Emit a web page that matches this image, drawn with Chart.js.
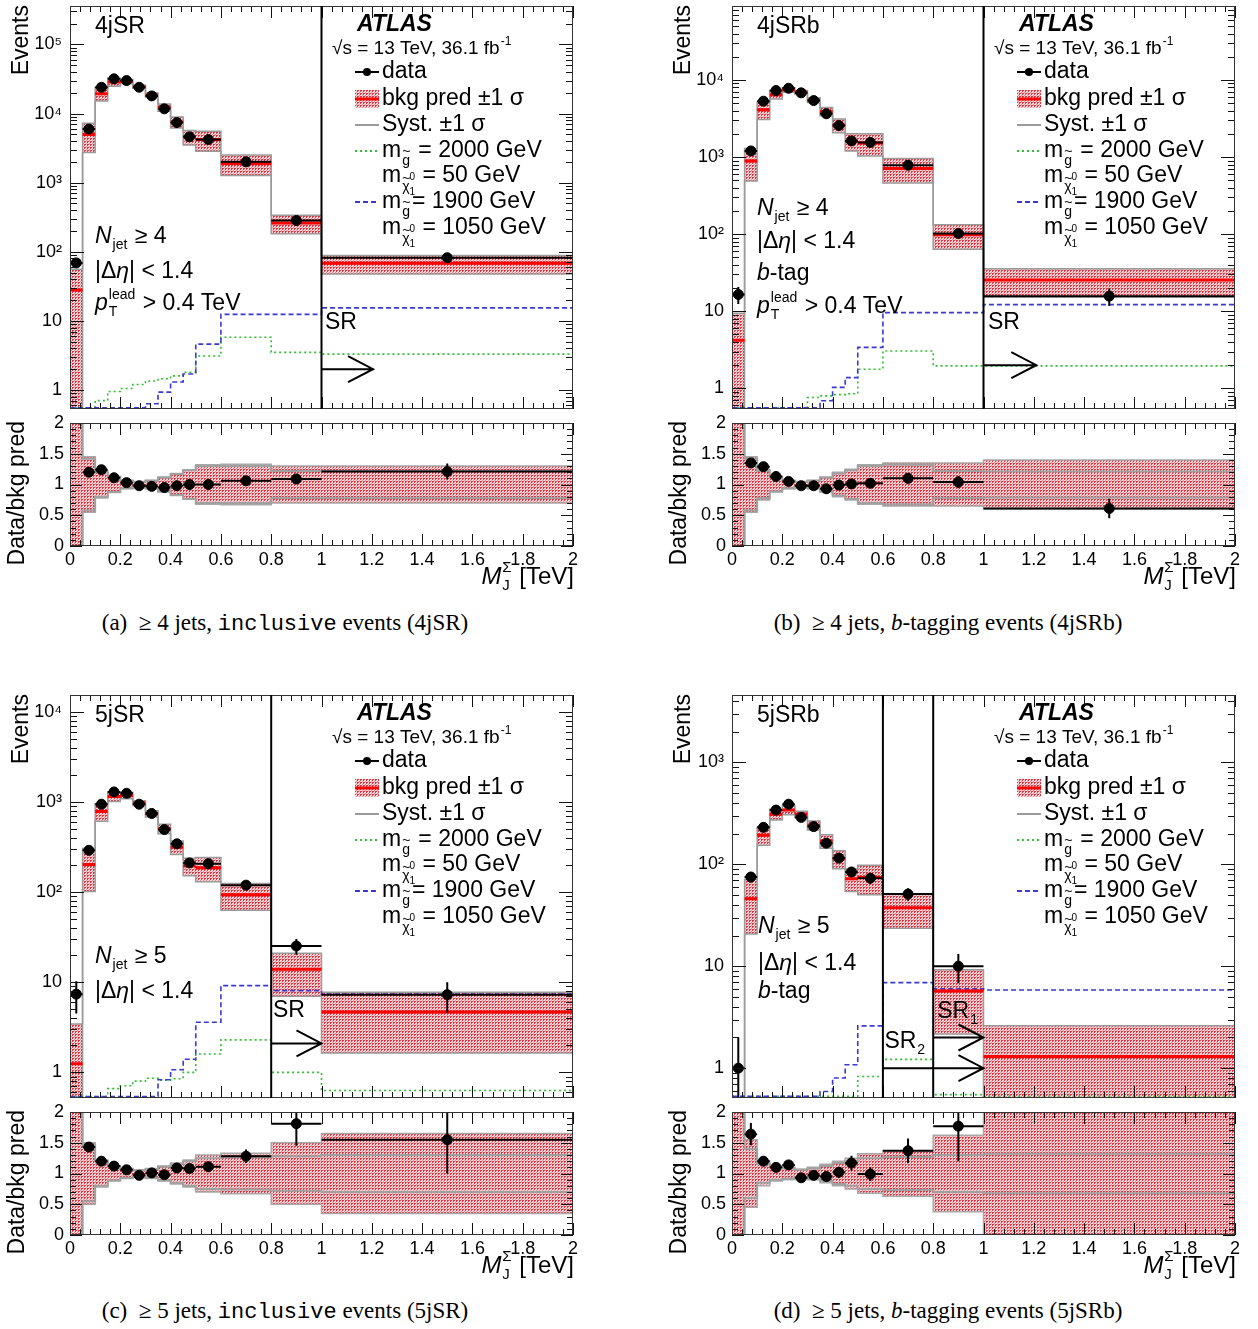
<!DOCTYPE html>
<html>
<head>
<meta charset="utf-8">
<title>M_J distributions, 4jSR / 4jSRb / 5jSR / 5jSRb</title>
<script src="https://cdn.jsdelivr.net/npm/chart.js@4.4.1/dist/chart.umd.min.js"></script>
<style>
  html, body { margin: 0; padding: 0; background: #fff; }
  #page { position: relative; width: 1258px; height: 1329px; overflow: hidden; }
  canvas { position: absolute; }
  .cap { position: absolute; width: 600px; margin-left: -300px; text-align: center; color: #000;
         font: 23px 'Liberation Serif', 'Times New Roman', serif; line-height: 26px; white-space: nowrap; }
  .cap .tt { font-family: 'Liberation Mono', 'Courier New', monospace; font-size: 22px; }
</style>
</head>
<body>
<div id="page">
  <canvas id="mainA" width="600" height="415" style="left:0px;top:0px"></canvas>
  <canvas id="ratioA" width="600" height="185" style="left:0px;top:415px"></canvas>
  <canvas id="mainB" width="600" height="415" style="left:662px;top:0px"></canvas>
  <canvas id="ratioB" width="600" height="185" style="left:662px;top:415px"></canvas>
  <canvas id="mainC" width="600" height="415" style="left:0px;top:689px"></canvas>
  <canvas id="ratioC" width="600" height="185" style="left:0px;top:1104px"></canvas>
  <canvas id="mainD" width="600" height="415" style="left:662px;top:689px"></canvas>
  <canvas id="ratioD" width="600" height="185" style="left:662px;top:1104px"></canvas>
  <div class="cap" style="left:285px;top:610px">(a) &nbsp;≥ 4 jets, <span class="tt">inclusive</span> events (4jSR)</div>
  <div class="cap" style="left:948px;top:610px">(b) &nbsp;≥ 4 jets, <i>b</i>-tagging events (4jSRb)</div>
  <div class="cap" style="left:285px;top:1298px">(c) &nbsp;≥ 5 jets, <span class="tt">inclusive</span> events (5jSR)</div>
  <div class="cap" style="left:948px;top:1298px">(d) &nbsp;≥ 5 jets, <i>b</i>-tagging events (5jSRb)</div>
</div>
<script>
var FONT = "'Liberation Sans', Arial, Helvetica, sans-serif";

// binning in M_J^Sigma [TeV]
var binEdges = [0, 0.05, 0.1, 0.15, 0.2, 0.25, 0.3, 0.35, 0.4, 0.45, 0.5, 0.6, 0.8, 1.0, 2.0];
var binCentres = [0.025, 0.075, 0.125, 0.175, 0.225, 0.275, 0.325, 0.375, 0.425, 0.475, 0.55, 0.7, 0.9, 1.5];

// tick values / labels
var massTicks = [0, 0.2, 0.4, 0.6, 0.8, 1, 1.2, 1.4, 1.6, 1.8, 2];
var ratioTicks = [0, 0.5, 1, 1.5, 2];
var eventTicks = [1, 10, 100, 1000, 10000, 100000];
var eventTickLabels = ['1', '10', '10²', '10³', '10⁴', '10⁵'];

// (a) 4jSR
var dataA = [69, 5960, 24000, 31800, 30000, 24000, 18000, 11700, 7400, 4600, 4200, 2000, 283, 82];
var dataErrA = [8, 77, 155, 178, 173, 155, 134, 108, 86, 68, 65, 45, 17, 9];
var bkgA = [28, 4970, 19400, 28600, 29100, 24500, 18600, 12300, 7550, 4600, 4200, 1890, 260, 68];
var bandA = [1.0, 0.45, 0.22, 0.13, 0.07, 0.05, 0.07, 0.12, 0.18, 0.24, 0.32, 0.33, 0.30, 0.30];
var sysA = [1.0, 0.42, 0.20, 0.12, 0.06, 0.04, 0.06, 0.11, 0.17, 0.23, 0.30, 0.30, 0.22, 0.22];
var ratioA = [null, 1.20, 1.24, 1.11, 1.03, 0.98, 0.97, 0.95, 0.98, 1.00, 1.00, 1.06, 1.09, 1.21];
var ratioErrA = [0, 0.02, 0.01, 0.01, 0.01, 0.01, 0.01, 0.01, 0.012, 0.015, 0.016, 0.025, 0.065, 0.13];
var greenA = [0.4, 0.45, 0.7, 0.95, 1.05, 1.2, 1.35, 1.45, 1.6, 1.8, 3.1, 5.8, 3.5, 3.3];
var blueA = [0.3, 0.3, 0.3, 0.3, 0.3, 0.3, 0.63, 0.93, 1.3, 1.7, 4.6, 12.4, 12.4, 15.4];

// (b) 4jSRb
var dataB = [16.5, 1200, 5300, 7280, 7800, 6800, 5400, 3640, 2560, 1620, 1550, 783, 102, 15.7];
var dataErrB = [4.1, 35, 73, 85, 88, 82, 73, 60, 51, 40, 39, 28, 10, 4];
var bkgB = [4.2, 890, 4100, 6450, 7430, 6940, 5500, 3910, 2590, 1600, 1520, 710, 98, 25.5];
var bandB = [1.25, 0.45, 0.25, 0.12, 0.07, 0.05, 0.07, 0.12, 0.2, 0.25, 0.32, 0.35, 0.35, 0.4];
var sysB = [1.0, 0.42, 0.22, 0.11, 0.06, 0.04, 0.06, 0.11, 0.18, 0.23, 0.3, 0.32, 0.22, 0.21];
var ratioB = [null, 1.35, 1.29, 1.13, 1.05, 0.98, 0.98, 0.93, 0.99, 1.01, 1.02, 1.10, 1.04, 0.61];
var ratioErrB = [0, 0.04, 0.02, 0.015, 0.012, 0.012, 0.013, 0.016, 0.02, 0.025, 0.026, 0.04, 0.1, 0.16];
var greenB = [0.3, 0.3, 0.3, 0.3, 0.3, 0.56, 0.76, 0.8, 0.83, 0.85, 1.77, 3.05, 1.96, 1.96];
var blueB = [0.3, 0.3, 0.3, 0.3, 0.3, 0.3, 0.3, 0.69, 1.03, 1.38, 3.4, 9.6, 9.6, 12.2];

// (c) 5jSR
var dataC = [7.4, 292, 950, 1300, 1256, 950, 750, 497, 345, 212, 208, 120, 25.3, 7.3];
var dataErrC = [2.9, 17, 31, 36, 35, 31, 27, 22, 19, 15, 14, 11, 5, 2.7];
var bkgC = [1.25, 204, 790, 1160, 1185, 980, 743, 507, 317, 196, 187, 94, 14, 4.7];
var bandC = [1.75, 0.5, 0.22, 0.12, 0.08, 0.06, 0.08, 0.12, 0.17, 0.22, 0.3, 0.33, 0.5, 0.65];
var sysC = [1.0, 0.45, 0.2, 0.11, 0.07, 0.05, 0.07, 0.11, 0.15, 0.2, 0.25, 0.26, 0.28, 0.3];
var ratioC = [null, 1.43, 1.20, 1.12, 1.06, 0.97, 1.01, 0.98, 1.09, 1.08, 1.11, 1.28, 1.81, 1.55];
var ratioErrC = [0, 0.05, 0.04, 0.03, 0.03, 0.03, 0.035, 0.045, 0.06, 0.075, 0.08, 0.11, 0.36, 0.55];
var greenC = [0.45, 0.5, 0.52, 0.66, 0.71, 0.8, 0.86, 0.82, 0.85, 1.0, 1.6, 2.3, 1.0, 0.63];
var blueC = [0.3, 0.3, 0.3, 0.3, 0.3, 0.3, 0.3, 0.83, 1.07, 1.4, 3.6, 9.2, 8.1, 7.4];

// (d) 5jSRb
var dataD = [1.0, 75, 230, 340, 388, 288, 234, 161, 115, 84, 73, 51, 10, null];
var dataErrD = [1.0, 8.7, 15, 18, 20, 17, 15, 13, 11, 9.2, 8.5, 7.1, 3.2, 0];
var bkgD = [0.2, 46, 192, 309, 340, 310, 241, 169, 113, 72, 74, 37.5, 5.7, 1.3];
var bandD = [1.0, 0.55, 0.2, 0.12, 0.1, 0.07, 0.1, 0.15, 0.2, 0.25, 0.32, 0.37, 0.62, 1.0];
var sysD = [1.0, 0.4, 0.15, 0.1, 0.08, 0.06, 0.08, 0.12, 0.17, 0.2, 0.25, 0.27, 0.3, 0.32];
var ratioD = [null, 1.64, 1.20, 1.10, 1.14, 0.93, 0.97, 0.95, 1.02, 1.17, 0.99, 1.37, 1.77, null];
var ratioErrD = [0, 0.18, 0.08, 0.06, 0.06, 0.055, 0.06, 0.075, 0.09, 0.12, 0.11, 0.2, 0.57, 0];
var greenD = [0.3, 0.3, 0.3, 0.3, 0.3, 0.3, 0.3, 0.3, 0.3, 0.3, 0.83, 1.22, 0.55, 0.4];
var blueD = [0.3, 0.3, 0.3, 0.3, 0.3, 0.3, 0.3, 0.59, 0.8, 1.08, 2.6, 6.9, 6.0, 5.85];

// text pieces
var cutN4 = [{t: 'N', it: 1}, {sub: 'jet'}, {t: ' ≥ 4'}];
var cutN5 = [{t: 'N', it: 1}, {sub: 'jet'}, {t: ' ≥ 5'}];
var cutEta = [{t: '|Δ'}, {t: 'η', it: 1}, {t: '| < 1.4'}];
var cutPt = [{t: 'p', it: 1}, {sub: 'T', sup: 'lead'}, {t: ' > 0.4 TeV'}];
var cutB = [{t: 'b', it: 1}, {t: '-tag'}];

Chart.defaults.font.family = FONT;
Chart.defaults.color = '#000';

// red dotted hatch like the ROOT fill style
function makeHatch() {
  var cv = document.createElement('canvas');
  cv.width = 3; cv.height = 3;
  var g = cv.getContext('2d');
  g.fillStyle = '#f8d6d8';
  g.fillRect(0, 0, 3, 3);
  g.fillStyle = '#e2323f';
  g.fillRect(0, 0, 2, 1);
  g.fillRect(0, 1, 1, 1);
  g.fillStyle = '#ee8a90';
  g.fillRect(2, 2, 1, 1);
  return g.createPattern(cv, 'repeat');
}
var hatch = makeHatch();

// rich text: sub / superscripts, tilde particles
function rich(c, x, y, segs, size, align) {
  function fnt(sz, it, b) { return (it ? 'italic ' : '') + (b ? 'bold ' : '') + sz + 'px ' + FONT; }
  function run(draw, x0) {
    var cx = x0;
    segs.forEach(function (s) {
      var small = Math.round(size * 0.62);
      var tiny = Math.round(size * 0.45);
      if (s.t !== undefined) {
        c.font = fnt(size, s.it, s.b);
        if (draw) c.fillText(s.t, cx, y);
        cx += c.measureText(s.t).width;
      } else if (s.tl) {
        c.font = fnt(small);
        var w = c.measureText(s.tl).width;
        if (draw) {
          c.fillText(s.tl, cx + 1, y + size * 0.42);
          c.fillText('~', cx + 1, y + size * 0.42 - small * 0.62);
        }
        cx += w + 3;
      } else if (s.chi) {
        c.font = fnt(small);
        var wc = c.measureText('χ').width;
        if (draw) {
          c.fillText('χ', cx + 1, y + size * 0.5);
          c.fillText('~', cx + 1, y + size * 0.5 - small * 0.62);
          c.font = fnt(tiny);
          c.fillText('0', cx + wc + 1, y + size * 0.05);
          c.fillText('1', cx + wc + 1, y + size * 0.72);
        }
        c.font = fnt(tiny);
        cx += wc + c.measureText('0').width + 2;
      } else {
        c.font = fnt(small, s.it);
        var ws = 0;
        if (s.sub) {
          if (draw) c.fillText(s.sub, cx + 1, y + size * 0.36);
          ws = Math.max(ws, c.measureText(s.sub).width);
        }
        if (s.sup) {
          if (draw) c.fillText(s.sup, cx + 1, y - size * 0.4);
          ws = Math.max(ws, c.measureText(s.sup).width);
        }
        cx += ws + 2;
      }
    });
    return cx - x0;
  }
  c.textAlign = 'left';
  c.textBaseline = 'middle';
  var w = run(false, 0);
  run(true, align === 'right' ? x - w : x);
  return w;
}

// dataset helpers
function steps(vals, floor) {
  var pts = [];
  for (var i = 0; i < vals.length; i++) {
    pts.push({x: binEdges[i], y: Math.max(vals[i], floor)});
  }
  pts.push({x: binEdges[vals.length], y: Math.max(vals[vals.length - 1], floor)});
  return pts;
}

function flats(vals) {
  var pts = [];
  vals.forEach(function (v, i) {
    if (v == null) return;
    pts.push({x: binEdges[i], y: v}, {x: binEdges[i + 1], y: v}, {x: binEdges[i + 1], y: null});
  });
  return pts;
}

function errorBars(vals, errs, floor) {
  var pts = [];
  vals.forEach(function (v, i) {
    if (v == null) return;
    pts.push({x: binCentres[i], y: Math.max(v - errs[i], floor)},
             {x: binCentres[i], y: v + errs[i]},
             {x: binCentres[i], y: null});
  });
  return pts.concat(flats(vals));
}

function markers(vals) {
  var pts = [];
  vals.forEach(function (v, i) {
    if (v != null) pts.push({x: binCentres[i], y: v});
  });
  return pts;
}

// no automatic label overhang padding: plot areas sit where the frames are
function noPad(s) {
  s.paddingTop = 0; s.paddingBottom = 0; s.paddingLeft = 0; s.paddingRight = 0;
}

// frame and inward ticks, ROOT style
var frameTicks = {
  id: 'frameTicks',
  afterDatasetsDraw: function (chart) {
    var a = chart.chartArea, c = chart.ctx, xs = chart.scales.x, ys = chart.scales.y;
    c.save();
    c.strokeStyle = '#111';
    c.lineWidth = 1;
    c.beginPath();
    for (var k = 0; k <= 50; k++) {
      var px = Math.round(xs.getPixelForValue(k * 0.04)) + 0.5;
      var len = k % 5 === 0 ? 12 : 6;
      c.moveTo(px, a.bottom); c.lineTo(px, a.bottom - len);
      c.moveTo(px, a.top); c.lineTo(px, a.top + len);
    }
    var yt = [];
    if (ys.type === 'logarithmic') {
      for (var e = -1; e <= 6; e++) {
        for (var m = 1; m <= 9; m++) {
          var v = m * Math.pow(10, e);
          if (v >= ys.min && v <= ys.max) yt.push([v, m === 1 ? 14 : 7]);
        }
      }
    } else {
      for (var j = 0; j <= 20; j++) yt.push([j * 0.1, j % 5 === 0 ? 12 : 6]);
    }
    yt.forEach(function (t) {
      var py = Math.round(ys.getPixelForValue(t[0])) + 0.5;
      c.moveTo(a.left, py); c.lineTo(a.left + t[1], py);
      c.moveTo(a.right, py); c.lineTo(a.right - t[1], py);
    });
    c.stroke();
    c.strokeStyle = '#333';
    c.strokeRect(Math.round(a.left) + 0.5, Math.round(a.top) + 0.5,
                 Math.round(a.right - a.left) - 1, Math.round(a.bottom - a.top) - 1);
    c.restore();
  }
};

function hline(c, x0, x1, y) { c.beginPath(); c.moveTo(x0, y); c.lineTo(x1, y); c.stroke(); }

function mainNotes(p) {
  return {
    id: 'mainNotes',
    afterDraw: function (chart) {
      var c = chart.ctx, a = chart.chartArea, xs = chart.scales.x, ys = chart.scales.y;
      c.save();
      c.fillStyle = '#000';
      c.strokeStyle = '#000';
      c.lineWidth = 2;
      // signal region boundaries and arrows
      p.srLines.forEach(function (v) {
        var px = xs.getPixelForValue(v);
        c.beginPath(); c.moveTo(px, a.top); c.lineTo(px, a.bottom); c.stroke();
      });
      p.arrows.forEach(function (r) {
        var x0 = xs.getPixelForValue(r.x0), x1 = xs.getPixelForValue(r.x1), y = ys.getPixelForValue(r.y);
        c.beginPath();
        c.moveTo(x0, y); c.lineTo(x1, y);
        c.moveTo(x1 - 25, y - 13); c.lineTo(x1, y); c.lineTo(x1 - 25, y + 13);
        c.stroke();
      });
      p.srLabels.forEach(function (l) {
        rich(c, xs.getPixelForValue(l.x), ys.getPixelForValue(l.y), l.segs, 23, 'left');
      });
      // region name and selection
      rich(c, a.left + 25, a.top + 21, [{t: p.name}], 23);
      p.cuts.forEach(function (segs, i) {
        rich(c, a.left + p.cutX, a.top + p.cutY[i], segs, 23);
      });
      // ATLAS label
      rich(c, a.left + 287, a.top + 19, [{t: 'ATLAS', it: 1, b: 1}], 23);
      rich(c, a.left + 262, a.top + 43, [{t: '√s = 13 TeV, 36.1 fb'}, {sup: '-1'}], 19);
      // legend
      var lx = a.left + 285, lw = 24, tx = a.left + 312;
      var rows = [66, 93, 119, 145, 170, 196, 222].map(function (d) { return a.top + d; });
      c.lineWidth = 2; c.strokeStyle = '#000';
      hline(c, lx, lx + lw, rows[0]);
      c.beginPath(); c.arc(lx + lw / 2, rows[0], 4, 0, 2 * Math.PI); c.fill();
      c.fillStyle = hatch;
      c.fillRect(lx, rows[1] - 9, lw, 18);
      c.strokeStyle = '#ff0000'; c.lineWidth = 3;
      hline(c, lx, lx + lw, rows[1]);
      c.strokeStyle = '#9a9a9a'; c.lineWidth = 2;
      hline(c, lx, lx + lw, rows[2]);
      c.strokeStyle = '#2fbf2f'; c.setLineDash([2, 3]);
      hline(c, lx, lx + lw, rows[3]);
      c.strokeStyle = '#3a3acf'; c.setLineDash([5, 3]);
      hline(c, lx, lx + lw, rows[5]);
      c.setLineDash([]);
      c.fillStyle = '#000';
      var texts = [
        [{t: 'data'}],
        [{t: 'bkg pred ±1 σ'}],
        [{t: 'Syst. ±1 σ'}],
        [{t: 'm'}, {tl: 'g'}, {t: ' = 2000 GeV'}],
        [{t: 'm'}, {chi: 1}, {t: ' = 50 GeV'}],
        [{t: 'm'}, {tl: 'g'}, {t: '= 1900 GeV'}],
        [{t: 'm'}, {chi: 1}, {t: ' = 1050 GeV'}]
      ];
      texts.forEach(function (segs, i) { rich(c, tx, rows[i], segs, 23); });
      // y title
      c.translate(22, a.top - 1);
      c.rotate(-Math.PI / 2);
      c.font = '23px ' + FONT;
      c.textAlign = 'right';
      c.textBaseline = 'middle';
      c.fillText('Events', 0, 0);
      c.restore();
    }
  };
}

var ratioNotes = {
  id: 'ratioNotes',
  afterDraw: function (chart) {
    var c = chart.ctx, a = chart.chartArea;
    c.save();
    c.fillStyle = '#000';
    rich(c, a.right + 1, a.bottom + 31, [{t: 'M', it: 1}, {sub: 'J', sup: 'Σ'}, {t: ' [TeV]'}], 24, 'right');
    c.translate(18, a.top - 2);
    c.rotate(-Math.PI / 2);
    c.font = '23px ' + FONT;
    c.textAlign = 'right';
    c.textBaseline = 'middle';
    c.fillText('Data/bkg pred', 0, 0);
    c.restore();
  }
};

function makeMain(p) {
  var up = p.bkg.map(function (b, i) { return b * (1 + p.band[i]); });
  var dn = p.bkg.map(function (b, i) { return Math.max(b * (1 - p.band[i]), 1e-3); });
  var floor = p.ymin * 1.04;
  new Chart(document.getElementById(p.main), {
    type: 'line',
    data: {
      datasets: [
        {label: 'data', data: markers(p.data), showLine: false, pointRadius: 5,
         pointBackgroundColor: '#000', pointBorderColor: '#000', order: 0},
        {label: 'data error', data: errorBars(p.data, p.dataErr, 1e-3), borderColor: '#000',
         borderWidth: 2, pointRadius: 0, spanGaps: false, order: 1},
        {label: 'bkg pred', data: flats(p.bkg), borderColor: '#ff0000', borderWidth: 3,
         pointRadius: 0, spanGaps: false, order: 2},
        {label: 'm_gluino 1900, m_chi 1050', data: steps(p.blue, floor), stepped: true,
         borderColor: '#3a3acf', borderWidth: 1.6, borderDash: [5, 3], pointRadius: 0, order: 3},
        {label: 'm_gluino 2000, m_chi 50', data: steps(p.green, floor), stepped: true,
         borderColor: '#2fbf2f', borderWidth: 1.6, borderDash: [2, 3], pointRadius: 0, order: 4},
        {label: 'bkg up', data: steps(up, 1e-3), stepped: true, borderColor: '#9a9a9a', borderWidth: 1.5,
         fill: '+1', backgroundColor: hatch, pointRadius: 0, order: 6},
        {label: 'bkg down', data: steps(dn, 1e-3), stepped: true, borderColor: '#9a9a9a', borderWidth: 1.5,
         fill: false, pointRadius: 0, order: 5}
      ]
    },
    options: {
      responsive: false, animation: false, devicePixelRatio: 1, events: [],
      layout: {padding: {left: 0, right: 27, top: 4, bottom: 5}},
      plugins: {legend: {display: false}, tooltip: {enabled: false}},
      scales: {
        x: {type: 'linear', min: 0, max: 2, display: false},
        y: {
          type: 'logarithmic', min: p.ymin, max: p.ymax, bounds: 'data',
          grid: {display: false, drawTicks: false}, border: {display: false},
          afterBuildTicks: function (s) {
            s.ticks = eventTicks.filter(function (v) { return v >= s.min && v <= s.max; })
              .map(function (v) { return {value: v}; });
          },
          ticks: {
            autoSkip: false, padding: 8, font: {size: 18},
            callback: function (v) { return eventTickLabels[eventTicks.indexOf(v)]; }
          },
          afterFit: function (s) { s.width = 70; noPad(s); }
        }
      }
    },
    plugins: [frameTicks, mainNotes(p)]
  });
}

function makeRatio(p) {
  var up = p.band.map(function (e) { return 1 + e; });
  var dn = p.band.map(function (e) { return 1 - e; });
  var sup = p.sys.map(function (e) { return 1 + e; });
  var sdn = p.sys.map(function (e) { return 1 - e; });
  new Chart(document.getElementById(p.ratioId), {
    type: 'line',
    data: {
      datasets: [
        {label: 'ratio', data: markers(p.ratio), showLine: false, pointRadius: 5,
         pointBackgroundColor: '#000', pointBorderColor: '#000', order: 0},
        {label: 'ratio error', data: errorBars(p.ratio, p.ratioErr, -1), borderColor: '#000',
         borderWidth: 2, pointRadius: 0, spanGaps: false, order: 1},
        {label: 'syst up', data: steps(sup, -1), stepped: true, borderColor: '#a0a0a0',
         borderWidth: 2, pointRadius: 0, order: 2},
        {label: 'syst down', data: steps(sdn, -1), stepped: true, borderColor: '#a0a0a0',
         borderWidth: 2, pointRadius: 0, order: 3},
        {label: 'band up', data: steps(up, -1), stepped: true, borderColor: '#a8a8a8', borderWidth: 1.5,
         fill: '+1', backgroundColor: hatch, pointRadius: 0, order: 5},
        {label: 'band down', data: steps(dn, -1), stepped: true, borderColor: '#a8a8a8', borderWidth: 1.5,
         fill: false, pointRadius: 0, order: 4}
      ]
    },
    options: {
      responsive: false, animation: false, devicePixelRatio: 1, events: [],
      layout: {padding: {left: 0, right: 27, top: 8, bottom: 0}},
      plugins: {legend: {display: false}, tooltip: {enabled: false}},
      scales: {
        x: {
          type: 'linear', min: 0, max: 2, bounds: 'data',
          grid: {display: false, drawTicks: false}, border: {display: false},
          afterBuildTicks: function (s) { s.ticks = massTicks.map(function (v) { return {value: v}; }); },
          ticks: {autoSkip: false, maxRotation: 0, padding: 3, font: {size: 18},
                  callback: function (v) { return String(v); }},
          afterFit: function (s) { s.height = 54; noPad(s); }
        },
        y: {
          type: 'linear', min: 0, max: 2, bounds: 'data',
          grid: {display: false, drawTicks: false}, border: {display: false},
          afterBuildTicks: function (s) { s.ticks = ratioTicks.map(function (v) { return {value: v}; }); },
          ticks: {autoSkip: false, padding: 6, font: {size: 18},
                  callback: function (v) { return String(v); }},
          afterFit: function (s) { s.width = 70; noPad(s); }
        }
      }
    },
    plugins: [frameTicks, ratioNotes]
  });
}

var panels = [
  {main: 'mainA', ratioId: 'ratioA', name: '4jSR', ymin: 0.53, ymax: 3.6e5,
   data: dataA, dataErr: dataErrA, bkg: bkgA, band: bandA, sys: sysA,
   ratio: ratioA, ratioErr: ratioErrA, green: greenA, blue: blueA,
   cuts: [cutN4, cutEta, cutPt], cutX: 25, cutY: [231, 266, 298],
   srLines: [1.0], arrows: [{x0: 1.0, x1: 1.205, y: 2.0}],
   srLabels: [{x: 1.014, y: 9.5, segs: [{t: 'SR'}]}]},
  {main: 'mainB', ratioId: 'ratioB', name: '4jSRb', ymin: 0.54, ymax: 9.1e4,
   data: dataB, dataErr: dataErrB, bkg: bkgB, band: bandB, sys: sysB,
   ratio: ratioB, ratioErr: ratioErrB, green: greenB, blue: blueB,
   cuts: [cutN4, cutEta, cutB, cutPt], cutX: 25, cutY: [203, 236, 268, 301],
   srLines: [1.0], arrows: [{x0: 1.0, x1: 1.21, y: 2.0}],
   srLabels: [{x: 1.018, y: 7.2, segs: [{t: 'SR'}]}]},
  {main: 'mainC', ratioId: 'ratioC', name: '5jSR', ymin: 0.52, ymax: 1.55e4,
   data: dataC, dataErr: dataErrC, bkg: bkgC, band: bandC, sys: sysC,
   ratio: ratioC, ratioErr: ratioErrC, green: greenC, blue: blueC,
   cuts: [cutN5, cutEta], cutX: 25, cutY: [262, 297],
   srLines: [0.8], arrows: [{x0: 0.8, x1: 1.0, y: 2.1}],
   srLabels: [{x: 0.807, y: 4.8, segs: [{t: 'SR'}]}]},
  {main: 'mainD', ratioId: 'ratioD', name: '5jSRb', ymin: 0.51, ymax: 4570,
   data: dataD, dataErr: dataErrD, bkg: bkgD, band: bandD, sys: sysD,
   ratio: ratioD, ratioErr: ratioErrD, green: greenD, blue: blueD,
   cuts: [cutN5, cutEta, cutB], cutX: 26, cutY: [232, 269, 297],
   srLines: [0.6, 0.8], arrows: [{x0: 0.8, x1: 1.0, y: 2.0}, {x0: 0.6, x1: 1.0, y: 1.0}],
   srLabels: [{x: 0.816, y: 3.6, segs: [{t: 'SR'}, {sub: '1'}]},
              {x: 0.606, y: 1.83, segs: [{t: 'SR'}, {sub: '2'}]}]}
];

panels.forEach(function (p) {
  makeMain(p);
  makeRatio(p);
});
</script>
</body>
</html>
